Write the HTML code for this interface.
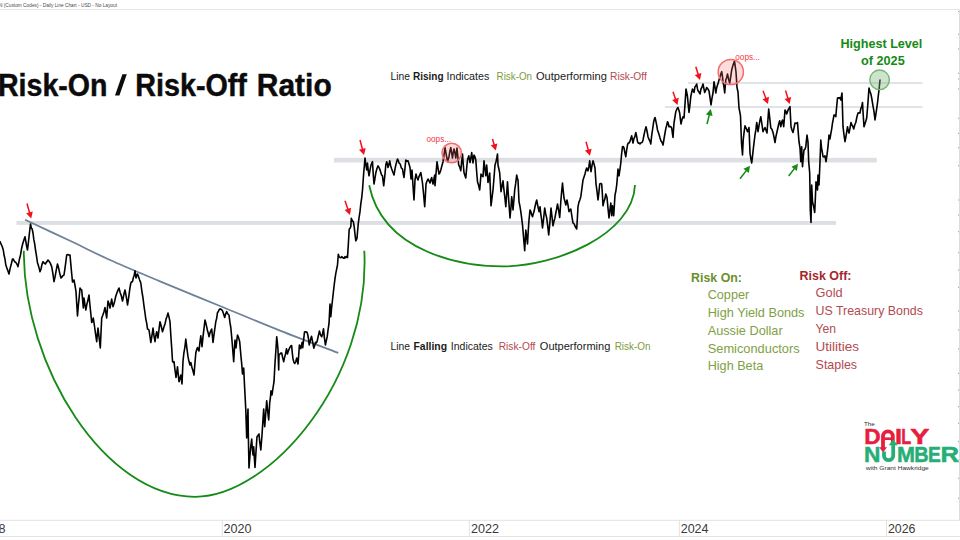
<!DOCTYPE html>
<html><head><meta charset="utf-8"><title>Risk-On / Risk-Off Ratio</title>
<style>
html,body{margin:0;padding:0;background:#fff;width:960px;height:540px;overflow:hidden;font-family:"Liberation Sans",sans-serif}
svg{display:block}
</style></head><body>
<svg width="960" height="540" viewBox="0 0 960 540" style="position:absolute;left:0;top:0">
<rect x="0" y="0" width="960" height="540" fill="#fff"/>
<line x1="0" y1="9.5" x2="960" y2="9.5" stroke="#e6e6e6" stroke-width="1"/>
<line x1="958" y1="11.5" x2="960" y2="11.5" stroke="#9a9a9a" stroke-width="1"/>
<line x1="958" y1="34.3" x2="960" y2="34.3" stroke="#9a9a9a" stroke-width="1"/>
<line x1="958" y1="49" x2="960" y2="49" stroke="#9a9a9a" stroke-width="1"/>
<line x1="958" y1="73.3" x2="960" y2="73.3" stroke="#9a9a9a" stroke-width="1"/>
<line x1="958" y1="79" x2="960" y2="79" stroke="#9a9a9a" stroke-width="1"/>
<line x1="958" y1="89" x2="960" y2="89" stroke="#9a9a9a" stroke-width="1"/>
<line x1="958" y1="118.3" x2="960" y2="118.3" stroke="#9a9a9a" stroke-width="1"/>
<line x1="958" y1="133.3" x2="960" y2="133.3" stroke="#9a9a9a" stroke-width="1"/>
<line x1="958" y1="147.7" x2="960" y2="147.7" stroke="#9a9a9a" stroke-width="1"/>
<line x1="958" y1="165.7" x2="960" y2="165.7" stroke="#9a9a9a" stroke-width="1"/>
<line x1="958" y1="200" x2="960" y2="200" stroke="#9a9a9a" stroke-width="1"/>
<line x1="958" y1="215" x2="960" y2="215" stroke="#9a9a9a" stroke-width="1"/>
<line x1="958" y1="231.7" x2="960" y2="231.7" stroke="#9a9a9a" stroke-width="1"/>
<line x1="958" y1="252.7" x2="960" y2="252.7" stroke="#9a9a9a" stroke-width="1"/>
<line x1="958" y1="270" x2="960" y2="270" stroke="#9a9a9a" stroke-width="1"/>
<line x1="958" y1="287.3" x2="960" y2="287.3" stroke="#9a9a9a" stroke-width="1"/>
<line x1="958" y1="311" x2="960" y2="311" stroke="#9a9a9a" stroke-width="1"/>
<line x1="958" y1="330" x2="960" y2="330" stroke="#9a9a9a" stroke-width="1"/>
<line x1="958" y1="349" x2="960" y2="349" stroke="#9a9a9a" stroke-width="1"/>
<line x1="958" y1="373.3" x2="960" y2="373.3" stroke="#9a9a9a" stroke-width="1"/>
<line x1="958" y1="390" x2="960" y2="390" stroke="#9a9a9a" stroke-width="1"/>
<line x1="958" y1="406.7" x2="960" y2="406.7" stroke="#9a9a9a" stroke-width="1"/>
<line x1="958" y1="423.3" x2="960" y2="423.3" stroke="#9a9a9a" stroke-width="1"/>
<line x1="958" y1="441.7" x2="960" y2="441.7" stroke="#9a9a9a" stroke-width="1"/>
<line x1="958" y1="460" x2="960" y2="460" stroke="#9a9a9a" stroke-width="1"/>
<line x1="958" y1="478.3" x2="960" y2="478.3" stroke="#9a9a9a" stroke-width="1"/>
<line x1="958" y1="498.3" x2="960" y2="498.3" stroke="#9a9a9a" stroke-width="1"/>
<line x1="959.5" y1="10" x2="959.5" y2="520" stroke="#dcdcdc" stroke-width="1"/>
<line x1="0" y1="520.3" x2="960" y2="520.3" stroke="#e3e3e3" stroke-width="1"/>
<line x1="0" y1="536.5" x2="960" y2="536.5" stroke="#e3e3e3" stroke-width="1"/>
<line x1="222.3" y1="520" x2="222.3" y2="536.5" stroke="#e3e3e3" stroke-width="1"/>
<line x1="469.3" y1="520" x2="469.3" y2="536.5" stroke="#e3e3e3" stroke-width="1"/>
<line x1="679.3" y1="520" x2="679.3" y2="536.5" stroke="#e3e3e3" stroke-width="1"/>
<line x1="886.5" y1="520" x2="886.5" y2="536.5" stroke="#e3e3e3" stroke-width="1"/>
<rect x="16.5" y="221" width="819.5" height="3.9" fill="#dcdfe4"/>
<rect x="334" y="157.8" width="542.7" height="4.7" fill="#dcdfe4"/>
<line x1="688" y1="83" x2="922.5" y2="83" stroke="#d6dae0" stroke-width="1.6"/>
<line x1="665" y1="107" x2="922.5" y2="107" stroke="#d6dae0" stroke-width="1.6"/>
<path d="M25.1,219.8C32.6,223.3 55.9,234.1 70.0,240.8C84.2,247.5 95.0,253.2 110.0,260.0C125.0,266.8 141.7,273.6 160.0,281.3C178.3,289.0 200.0,297.8 220.0,306.0C240.0,314.2 260.3,322.8 280.0,330.6C299.7,338.4 328.6,349.2 338.3,352.9" fill="none" stroke="#6f8298" stroke-width="1.8"/>
<path d="M23.8,250.8 C23.6,367.3 105,496.8 195,496.8 C269.9,496.8 370.7,380.1 364.3,250.7" fill="none" stroke="#168a16" stroke-width="1.8"/>
<path d="M369.2,185.3 C383.2,253.8 464.9,266.4 502.7,266.4 C555.7,266.4 632.9,234.9 635,185" fill="none" stroke="#168a16" stroke-width="1.8"/>
<polyline points="0.0,241.7 1.1,244.1 2.2,246.5 3.3,250.0 4.1,255.3 5.0,259.1 5.8,265.0 6.9,268.1 7.9,270.7 9.0,274.0 10.2,268.1 11.3,264.0 12.5,259.0 13.3,259.1 14.2,260.9 15.0,262.0 16.0,262.7 17.0,264.3 18.0,266.7 19.2,260.3 20.5,254.9 21.7,248.0 22.8,243.5 23.9,239.9 25.0,236.7 25.8,241.4 26.7,246.5 27.5,250.0 28.5,241.5 29.5,232.5 30.5,224.0 31.3,228.0 32.2,229.1 33.0,233.0 33.8,239.4 34.7,243.9 35.5,250.0 36.5,255.8 37.5,263.0 38.3,265.1 39.2,268.4 40.0,271.7 41.0,269.0 42.0,264.4 43.0,261.7 43.8,262.6 44.7,263.5 45.5,264.0 46.3,262.4 47.2,261.4 48.0,260.0 49.2,261.4 50.5,263.6 51.7,266.7 52.9,273.6 54.0,281.7 55.2,276.2 56.3,269.8 57.5,264.0 58.7,268.3 59.8,273.5 61.0,278.0 62.0,276.9 63.0,275.6 64.0,275.0 64.9,268.9 65.8,262.1 66.7,255.0 67.8,254.5 68.9,255.1 70.0,255.0 70.8,264.1 71.7,273.8 72.5,282.0 73.2,281.5 74.0,280.0 75.0,285.4 76.0,291.7 76.8,304.8 77.5,316.0 78.3,305.9 79.2,297.2 80.0,288.0 80.8,289.5 81.7,290.0 82.5,298.3 83.3,308.0 84.0,298.0 84.9,304.0 85.8,310.0 86.9,304.1 87.9,300.3 89.0,295.0 89.9,304.7 90.8,313.5 91.7,322.5 92.5,321.0 93.3,318.0 94.4,325.5 95.6,334.2 96.7,341.7 97.3,335.0 98.0,328.0 99.2,338.2 100.3,348.0 101.0,332.9 101.7,318.0 102.8,315.2 103.9,311.9 105.0,307.5 105.8,312.7 106.7,318.0 107.3,309.8 108.0,301.0 109.0,303.6 110.0,308.0 110.8,303.9 111.7,299.0 112.3,303.1 113.0,306.7 113.9,304.1 114.9,300.2 115.8,296.0 116.9,292.9 117.9,290.4 119.0,288.0 120.2,292.7 121.3,295.7 122.5,301.0 123.3,297.3 124.2,293.0 125.0,290.0 125.8,294.2 126.7,299.1 127.5,305.0 128.6,298.2 129.7,289.6 130.8,283.0 131.7,281.8 132.5,281.7 133.3,277.8 134.2,275.2 135.0,270.8 136.0,278.0 136.8,275.2 137.5,274.0 138.6,276.9 139.7,280.1 140.8,283.0 141.9,291.3 143.0,298.0 144.0,306.1 145.0,313.0 145.8,319.1 146.7,323.2 147.5,329.0 148.2,329.3 149.0,330.0 149.9,336.0 150.8,342.5 151.9,336.0 153.0,328.0 154.0,335.8 155.0,341.7 155.8,336.0 156.7,331.7 157.3,334.2 158.0,338.0 159.0,329.3 160.0,321.7 160.8,324.5 161.7,328.3 162.5,331.7 163.3,329.3 164.2,326.1 165.0,324.0 166.0,319.3 167.0,316.5 168.0,313.0 169.0,317.1 170.0,321.7 170.8,335.0 171.7,348.0 172.5,361.0 173.2,362.3 174.0,361.7 175.0,370.0 176.0,377.5 176.8,372.1 177.5,366.7 178.2,374.4 179.0,381.7 179.9,378.7 180.8,375.0 182.0,384.0 183.0,361.0 183.9,352.8 184.9,347.1 185.8,339.0 186.9,348.4 188.0,356.7 189.0,361.6 190.0,365.0 190.8,362.5 191.9,367.3 192.9,370.6 194.0,375.0 194.9,363.8 195.8,353.0 196.7,349.5 197.5,347.5 198.2,349.5 199.0,351.0 199.9,342.5 200.8,335.8 202.0,346.7 203.0,336.9 204.0,328.3 205.0,320.0 205.8,322.9 206.7,326.9 207.5,330.8 208.2,332.9 209.0,336.7 209.9,333.1 210.8,330.9 211.7,329.0 212.3,335.0 213.0,342.5 214.0,334.7 215.0,327.5 215.8,321.6 216.7,318.2 217.5,312.5 218.3,311.6 219.2,309.5 220.0,309.0 220.8,309.1 221.7,309.9 222.5,310.8 223.6,313.9 224.7,317.5 225.7,313.8 226.7,311.7 227.8,314.0 229.0,315.0 229.9,322.2 230.8,327.5 231.7,337.0 232.5,346.7 233.7,361.7 234.3,350.8 235.0,340.0 236.0,348.0 236.8,340.7 237.5,335.0 238.6,337.6 239.7,341.7 240.3,348.9 241.0,356.7 241.8,364.9 242.5,374.0 243.7,368.0 244.5,385.0 245.2,398.2 245.8,410.0 246.7,438.0 247.3,422.8 248.0,409.0 248.3,433.0 249.0,468.0 250.0,455.0 250.8,446.0 251.7,439.0 252.3,447.9 253.0,455.0 253.7,446.7 254.3,457.2 255.0,467.5 256.0,451.4 257.0,436.7 258.0,435.4 259.0,434.0 259.7,441.7 260.8,450.0 262.0,435.0 262.9,421.1 263.7,409.0 264.7,426.7 265.7,413.8 266.7,400.8 267.7,411.4 268.7,420.0 269.7,403.0 270.4,397.6 271.0,390.8 272.0,395.0 273.0,388.0 274.0,381.7 275.0,363.0 275.9,350.2 276.7,336.7 277.4,342.9 278.0,350.0 278.7,370.0 279.0,355.0 279.9,354.1 280.8,353.0 281.7,353.0 282.7,357.9 283.7,361.7 284.6,357.4 285.6,353.6 286.5,348.7 287.4,354.0 288.5,350.6 289.7,347.8 290.6,346.1 291.6,345.5 292.3,352.8 293.0,358.9 293.9,362.2 294.8,363.5 295.8,361.5 296.7,358.0 297.4,361.6 298.0,364.0 298.7,355.1 299.4,345.0 300.1,347.3 300.8,348.7 301.5,344.9 302.2,342.2 302.7,347.8 303.6,339.9 304.5,332.0 305.4,331.7 306.4,332.0 307.1,332.5 307.8,334.8 308.5,339.0 309.2,345.0 310.4,340.2 311.5,336.2 312.6,341.7 313.8,348.2 314.7,345.6 315.6,342.2 316.3,342.9 317.0,341.8 318.2,336.3 319.4,331.1 320.5,334.8 321.7,336.7 322.6,333.7 323.5,328.8 324.4,337.8 325.4,345.0 326.3,340.6 327.2,336.7 328.1,329.6 329.0,323.7 330.0,304.0 330.8,316.7 331.6,307.8 332.5,300.0 333.4,291.9 334.2,285.0 335.0,278.6 335.8,273.3 336.6,269.4 337.5,265.0 338.3,254.2 339.1,256.7 340.0,257.5 340.9,257.8 341.7,256.7 342.5,257.2 343.4,258.1 344.2,258.3 345.0,256.7 345.8,257.6 346.7,256.4 347.5,257.5 348.3,245.0 349.2,229.2 350.0,228.3 350.8,226.7 351.3,218.3 352.3,220.8 353.3,221.7 354.2,226.7 355.0,234.3 355.8,240.8 357.0,238.3 357.6,231.3 358.3,223.3 359.1,217.5 360.0,211.7 360.8,203.8 361.7,197.8 362.5,190.0 363.7,173.0 364.4,165.2 365.0,158.0 365.9,164.6 366.7,170.0 367.5,163.0 368.2,170.3 369.0,175.8 369.9,170.6 370.8,165.8 371.6,163.6 372.5,161.7 373.2,173.7 374.0,184.0 374.9,178.9 375.8,173.0 376.9,168.7 378.0,165.8 378.9,167.3 379.9,169.6 380.8,172.5 381.6,175.0 382.5,175.8 383.7,185.8 384.8,176.0 385.8,165.0 386.7,161.7 387.4,163.9 388.0,167.5 388.9,164.8 389.7,160.8 390.7,165.9 391.7,169.0 392.9,172.3 394.0,175.0 394.9,169.7 395.8,165.0 396.6,162.1 397.5,159.0 398.2,160.3 399.0,163.0 400.2,164.0 401.3,167.9 402.5,169.0 403.2,173.5 404.0,177.5 404.9,168.8 405.8,160.0 406.9,161.3 408.0,160.8 409.0,164.0 410.0,167.5 411.0,179.0 412.0,170.0 413.0,185.7 414.0,200.0 415.0,180.0 416.0,174.0 417.0,177.7 418.0,180.0 418.9,176.9 419.9,174.5 420.8,172.5 421.6,177.3 422.5,183.0 423.6,194.3 424.7,206.7 425.4,195.5 426.0,184.0 427.0,181.0 428.0,179.0 429.0,180.8 430.0,183.0 430.9,179.5 431.7,177.5 432.4,181.6 433.0,184.0 433.9,179.2 434.7,175.0 435.0,185.8 436.0,173.7 437.0,161.7 438.0,168.0 439.0,174.0 439.9,172.8 440.8,170.0 441.9,165.7 443.0,161.7 444.0,155.4 445.0,147.5 445.8,152.2 446.7,157.0 447.5,161.7 448.2,159.2 449.0,156.7 449.9,151.1 450.8,147.5 451.6,152.6 452.5,158.0 453.2,152.9 454.0,149.0 454.9,152.5 455.8,158.0 457.0,148.0 457.9,157.1 458.7,165.0 459.8,167.2 460.8,170.8 461.6,162.3 462.5,154.0 463.2,163.7 464.0,172.5 464.9,175.4 465.8,178.0 466.6,168.7 467.5,160.0 468.1,157.9 468.8,155.8 470.0,162.5 470.9,157.6 471.7,152.5 472.4,158.3 473.0,163.0 474.0,155.0 474.9,156.7 475.8,160.0 476.6,171.0 477.5,181.7 478.6,185.3 479.7,190.0 480.4,181.6 481.0,174.0 482.0,175.9 483.0,176.7 484.0,160.8 484.9,168.3 485.8,175.8 486.7,165.0 487.4,173.9 488.0,182.5 488.9,178.3 489.7,173.0 490.4,190.2 491.0,205.8 492.0,197.8 493.0,190.0 494.0,177.7 495.0,165.0 496.0,161.7 496.8,157.9 497.5,154.0 498.0,165.0 498.9,169.0 499.7,173.0 500.4,182.7 501.0,191.7 502.0,186.2 503.0,180.8 503.9,189.5 504.9,198.0 505.8,206.7 506.6,195.1 507.5,181.7 508.3,194.2 509.2,206.7 510.0,218.0 510.9,208.2 511.7,196.7 512.4,202.9 513.0,210.0 513.9,200.1 514.7,190.0 515.7,183.4 516.7,175.0 517.4,178.2 518.0,180.0 519.0,201.7 519.9,206.0 520.8,211.7 521.6,217.6 522.5,225.0 523.6,237.8 524.7,250.8 525.8,230.0 526.6,236.1 527.5,244.0 528.2,231.5 529.0,220.0 530.0,210.0 530.8,211.4 531.7,214.8 532.5,216.7 533.3,213.9 534.2,210.8 535.0,206.7 535.9,202.7 536.7,200.0 537.9,206.3 539.0,211.7 540.0,206.7 540.8,214.1 541.7,220.2 542.5,228.0 543.6,218.8 544.7,208.0 545.7,213.9 546.7,218.0 547.7,225.9 548.7,235.0 549.9,222.4 551.0,208.0 552.0,216.7 553.0,225.8 553.9,221.5 554.9,218.2 555.8,213.0 556.6,209.2 557.5,204.0 558.6,210.1 559.7,217.5 560.8,201.7 561.6,192.2 562.5,183.0 563.2,190.5 564.0,198.0 564.9,201.2 565.8,205.0 567.0,200.0 568.0,205.2 569.0,211.7 569.9,210.0 570.8,209.0 571.9,216.4 573.0,223.0 574.2,224.0 575.5,227.1 576.7,229.0 577.4,217.7 578.0,206.7 578.9,202.4 579.9,199.7 580.8,196.7 581.9,188.6 583.0,180.0 584.0,177.0 585.0,174.0 585.9,170.1 586.7,168.0 587.4,170.4 588.0,170.8 588.9,166.4 589.7,160.8 590.4,167.2 591.0,171.7 592.0,165.5 593.0,160.8 594.0,163.9 595.0,168.0 596.0,184.0 597.0,191.1 598.0,200.0 598.9,192.6 599.7,184.0 600.7,183.5 601.7,184.0 602.4,194.2 603.0,205.8 603.9,201.7 604.9,198.8 605.8,194.0 607.0,197.5 608.0,208.4 609.0,218.0 609.9,210.0 610.8,203.0 611.7,215.8 612.5,205.8 613.7,215.8 614.4,204.7 615.0,195.0 615.9,190.8 616.7,185.0 617.4,177.1 618.0,169.0 619.0,175.8 619.9,169.8 620.8,163.0 621.6,154.0 622.5,146.7 623.2,146.5 624.0,148.0 624.9,152.7 625.8,156.7 626.6,150.7 627.5,145.0 628.2,143.1 629.0,143.0 629.9,141.5 630.8,138.5 631.7,135.8 632.4,140.0 633.0,143.0 633.9,138.7 634.9,136.7 635.8,132.5 636.6,136.2 637.5,141.7 638.3,143.2 639.2,143.1 640.0,144.0 640.8,142.9 641.7,142.6 642.5,141.7 643.2,139.2 644.0,135.0 645.0,130.4 646.0,126.7 647.0,131.0 648.0,136.7 648.9,139.2 649.9,141.0 650.8,144.0 651.6,136.2 652.5,130.0 653.7,121.7 654.4,118.9 655.0,117.5 655.8,120.8 656.7,125.2 657.5,130.0 658.3,132.3 659.2,134.9 660.0,138.0 661.0,140.9 662.0,142.2 663.0,145.0 664.0,139.0 665.0,133.0 665.8,128.6 666.7,125.2 667.5,121.7 668.2,123.2 669.0,126.7 669.9,126.6 670.8,126.6 671.7,128.0 672.4,133.2 673.0,137.5 674.0,123.0 674.9,117.5 675.8,111.7 676.9,109.0 678.0,107.5 678.9,110.2 679.7,113.0 680.4,119.4 681.0,124.0 682.0,119.6 683.0,116.7 684.0,118.0 685.0,104.1 686.0,89.0 686.8,92.7 687.5,96.7 688.2,104.6 689.0,112.5 689.9,105.3 690.8,96.7 691.6,92.6 692.5,89.0 693.2,90.8 694.0,92.5 695.0,86.7 695.9,85.7 696.7,84.0 697.4,88.4 698.0,90.8 699.0,92.1 700.0,94.0 701.0,89.0 702.0,87.2 703.0,84.0 703.9,88.7 704.7,92.5 705.7,90.3 706.7,87.5 707.9,89.0 709.0,90.8 710.0,97.6 711.0,105.0 712.0,98.1 713.0,93.0 714.0,81.7 714.9,86.6 715.8,93.0 716.6,88.1 717.5,85.0 718.2,83.0 719.0,80.0 720.0,76.7 720.9,73.7 721.7,71.7 722.4,76.0 723.0,81.7 723.9,86.5 724.7,93.0 725.8,80.0 726.6,77.7 727.5,74.0 728.6,79.2 729.7,83.0 730.7,76.8 731.7,70.0 732.6,66.6 733.6,63.5 734.5,61.0 735.2,66.1 736.0,72.0 737.0,87.5 738.0,92.0 739.0,108.0 739.8,111.9 740.5,116.0 741.5,143.0 742.5,155.0 743.2,140.0 744.1,132.2 745.0,125.8 745.8,127.7 746.7,129.3 747.5,131.7 748.2,130.5 749.0,127.5 750.0,153.0 750.9,158.9 751.7,163.0 752.4,157.4 753.0,151.7 754.0,142.8 755.0,135.0 755.9,129.7 756.7,122.5 757.4,126.7 758.0,131.7 758.9,126.4 759.9,120.7 760.8,116.7 761.9,124.0 763.0,131.7 764.0,129.5 765.0,127.5 766.0,130.3 767.0,133.0 767.9,120.4 768.7,109.0 769.8,118.5 770.8,128.0 771.9,129.3 773.0,132.5 774.0,137.0 775.0,142.5 775.9,136.9 776.7,133.0 777.7,128.7 778.7,124.0 779.7,120.8 780.8,126.7 781.6,122.4 782.5,120.0 783.7,126.7 784.4,118.0 785.0,110.0 785.9,111.5 786.7,114.0 787.4,112.2 788.0,110.0 789.0,108.4 790.0,106.7 791.0,126.7 792.0,130.1 793.0,132.5 794.0,128.1 795.0,123.0 795.8,123.3 796.7,123.4 797.5,122.5 798.2,131.9 799.0,141.7 800.0,148.0 800.8,161.7 801.7,146.7 802.5,166.7 803.2,158.0 804.0,150.0 804.9,149.3 805.8,146.7 807.0,135.0 808.0,142.0 808.7,161.7 809.7,173.0 810.3,210.0 811.0,222.5 811.7,185.0 812.5,201.7 813.6,206.4 814.7,212.5 815.4,197.5 816.0,181.7 816.8,186.1 817.5,190.0 818.0,175.0 819.0,185.0 820.0,161.7 820.8,140.0 821.5,148.0 822.2,151.4 823.0,156.7 824.0,156.9 825.0,155.8 826.0,161.7 827.0,155.0 828.0,146.7 829.0,135.0 830.0,139.0 830.8,133.9 831.7,128.8 832.5,123.0 833.2,119.6 834.0,115.0 834.9,115.1 835.8,116.7 836.6,107.4 837.5,98.0 838.3,97.8 839.2,98.3 840.0,97.5 840.8,100.0 842.0,93.0 843.0,126.7 844.0,134.8 845.0,141.7 845.8,137.4 846.7,131.9 847.5,126.7 848.2,130.6 849.0,133.0 850.0,128.1 851.0,122.5 851.9,125.1 852.8,126.3 853.7,129.0 854.8,124.8 855.8,122.5 856.9,117.0 858.0,113.0 859.0,112.7 860.0,113.0 860.8,108.7 861.7,106.7 862.5,102.5 863.2,114.7 864.0,126.7 864.9,124.1 865.8,121.2 866.7,118.0 867.9,103.4 869.0,88.0 869.9,91.3 870.8,93.7 871.7,98.0 872.9,105.4 874.0,111.7 875.0,120.0 875.8,114.8 876.7,108.7 877.5,103.0 878.2,96.6 879.0,90.0 880.0,80.0" fill="none" stroke="#000" stroke-width="1.6" stroke-linejoin="round" stroke-linecap="round"/>
<circle cx="451.7" cy="153" r="9.7" fill="rgba(250,110,110,0.24)" stroke="#f26c6c" stroke-width="1.5"/>
<circle cx="730.8" cy="72" r="12.6" fill="rgba(250,110,110,0.24)" stroke="#f26c6c" stroke-width="1.5"/>
<circle cx="879.6" cy="79.8" r="9.8" fill="rgba(120,185,120,0.38)" stroke="#76b576" stroke-width="1.4"/>
<line x1="27.0" y1="203.5" x2="29.7" y2="213.3" stroke="#f2101c" stroke-width="1.5"/><polygon points="31.2,218.5 26.2,213.3 32.8,211.4" fill="#f2101c"/>
<line x1="345.0" y1="200.8" x2="348.2" y2="209.9" stroke="#f2101c" stroke-width="1.5"/><polygon points="350.0,215.0 344.6,210.1 351.1,207.8" fill="#f2101c"/>
<line x1="360.0" y1="140.0" x2="362.6" y2="149.8" stroke="#f2101c" stroke-width="1.5"/><polygon points="364.0,155.0 359.0,149.7 365.7,147.9" fill="#f2101c"/>
<line x1="492.5" y1="139.0" x2="494.3" y2="145.3" stroke="#f2101c" stroke-width="1.5"/><polygon points="495.8,150.5 490.7,145.3 497.4,143.4" fill="#f2101c"/>
<line x1="586.0" y1="141.7" x2="588.5" y2="150.6" stroke="#f2101c" stroke-width="1.5"/><polygon points="590.0,155.8 584.9,150.6 591.6,148.7" fill="#f2101c"/>
<line x1="673.0" y1="91.7" x2="675.8" y2="99.9" stroke="#f2101c" stroke-width="1.5"/><polygon points="677.5,105.0 672.2,100.0 678.7,97.8" fill="#f2101c"/>
<line x1="695.8" y1="66.7" x2="698.4" y2="74.9" stroke="#f2101c" stroke-width="1.5"/><polygon points="700.0,80.0 694.8,74.9 701.4,72.9" fill="#f2101c"/>
<line x1="763.0" y1="90.8" x2="766.1" y2="99.0" stroke="#f2101c" stroke-width="1.5"/><polygon points="768.0,104.0 762.5,99.2 769.0,96.8" fill="#f2101c"/>
<line x1="785.5" y1="90.5" x2="788.1" y2="98.8" stroke="#f2101c" stroke-width="1.5"/><polygon points="789.7,104.0 784.5,98.9 791.1,96.9" fill="#f2101c"/>
<line x1="707.0" y1="124.0" x2="709.5" y2="114.2" stroke="#168a16" stroke-width="1.5"/><polygon points="710.8,109.0 712.6,116.1 705.9,114.4" fill="#168a16"/>
<line x1="740.0" y1="178.8" x2="746.7" y2="170.1" stroke="#168a16" stroke-width="1.5"/><polygon points="750.0,165.8 748.8,173.0 743.4,168.8" fill="#168a16"/>
<line x1="788.7" y1="176.0" x2="794.7" y2="168.1" stroke="#168a16" stroke-width="1.5"/><polygon points="798.0,163.8 796.9,171.0 791.4,166.8" fill="#168a16"/>
<text x="-1" y="6.6" font-family="Liberation Sans, sans-serif" font-size="5" fill="#4a4a4a" textLength="118" lengthAdjust="spacingAndGlyphs">N (Custom Codes) - Daily Line Chart - USD - No Layout</text>
<text x="-2.0" y="95.5" font-family="Liberation Sans, sans-serif" font-size="31" fill="#0b0b0b" font-weight="bold" textLength="109.5" lengthAdjust="spacingAndGlyphs" stroke="#0b0b0b" stroke-width="0.45">Risk-On</text>
<polygon points="115,95.5 119.4,95.5 126.8,74.2 122.4,74.2" fill="#0b0b0b"/>
<text x="135.3" y="95.5" font-family="Liberation Sans, sans-serif" font-size="31" fill="#0b0b0b" font-weight="bold" textLength="111.6" lengthAdjust="spacingAndGlyphs" stroke="#0b0b0b" stroke-width="0.45">Risk-Off</text>
<text x="256.8" y="95.5" font-family="Liberation Sans, sans-serif" font-size="31" fill="#0b0b0b" font-weight="bold" textLength="74.9" lengthAdjust="spacingAndGlyphs" stroke="#0b0b0b" stroke-width="0.45">Ratio</text>
<text x="390.5" y="80.4" font-family="Liberation Sans, sans-serif" font-size="10.6" fill="#1a1a1a" textLength="19.5" lengthAdjust="spacingAndGlyphs">Line</text>
<text x="413" y="80.4" font-family="Liberation Sans, sans-serif" font-size="10.6" fill="#1a1a1a" font-weight="bold" textLength="30.6" lengthAdjust="spacingAndGlyphs">Rising</text>
<text x="446.5" y="80.4" font-family="Liberation Sans, sans-serif" font-size="10.6" fill="#1a1a1a" textLength="42.8" lengthAdjust="spacingAndGlyphs">Indicates</text>
<text x="496.6" y="80.4" font-family="Liberation Sans, sans-serif" font-size="10.6" fill="#7d9c3c" textLength="35.4" lengthAdjust="spacingAndGlyphs">Risk-On</text>
<text x="536" y="80.4" font-family="Liberation Sans, sans-serif" font-size="10.6" fill="#1a1a1a" textLength="70.8" lengthAdjust="spacingAndGlyphs">Outperforming</text>
<text x="610" y="80.4" font-family="Liberation Sans, sans-serif" font-size="10.6" fill="#b4494f" textLength="36.8" lengthAdjust="spacingAndGlyphs">Risk-Off</text>
<text x="390.5" y="349.8" font-family="Liberation Sans, sans-serif" font-size="10.6" fill="#1a1a1a" textLength="19.5" lengthAdjust="spacingAndGlyphs">Line</text>
<text x="413.5" y="349.8" font-family="Liberation Sans, sans-serif" font-size="10.6" fill="#1a1a1a" font-weight="bold" textLength="33.5" lengthAdjust="spacingAndGlyphs">Falling</text>
<text x="450.8" y="349.8" font-family="Liberation Sans, sans-serif" font-size="10.6" fill="#1a1a1a" textLength="42" lengthAdjust="spacingAndGlyphs">Indicates</text>
<text x="498.7" y="349.8" font-family="Liberation Sans, sans-serif" font-size="10.6" fill="#b4494f" textLength="36.7" lengthAdjust="spacingAndGlyphs">Risk-Off</text>
<text x="539.8" y="349.8" font-family="Liberation Sans, sans-serif" font-size="10.6" fill="#1a1a1a" textLength="70.5" lengthAdjust="spacingAndGlyphs">Outperforming</text>
<text x="614.7" y="349.8" font-family="Liberation Sans, sans-serif" font-size="10.6" fill="#7d9c3c" textLength="35.8" lengthAdjust="spacingAndGlyphs">Risk-On</text>
<text x="840.4" y="47.5" font-family="Liberation Sans, sans-serif" font-size="12.9" fill="#168a16" font-weight="bold" textLength="82" lengthAdjust="spacingAndGlyphs">Highest Level</text>
<text x="861" y="65" font-family="Liberation Sans, sans-serif" font-size="12.9" fill="#168a16" font-weight="bold" textLength="43.7" lengthAdjust="spacingAndGlyphs">of 2025</text>
<text x="426.5" y="141.9" font-family="Liberation Sans, sans-serif" font-size="9.4" fill="#fb3640" textLength="24.6" lengthAdjust="spacingAndGlyphs">oops...</text>
<text x="735.3" y="59.9" font-family="Liberation Sans, sans-serif" font-size="9.4" fill="#fb3640" textLength="24.6" lengthAdjust="spacingAndGlyphs">oops...</text>
<text x="691" y="281.9" font-family="Liberation Sans, sans-serif" font-size="12.7" fill="#6b8f2b" font-weight="bold" textLength="51" lengthAdjust="spacingAndGlyphs">Risk On:</text>
<text x="707.7" y="299.4" font-family="Liberation Sans, sans-serif" font-size="12.7" fill="#7ea144" textLength="41.5" lengthAdjust="spacingAndGlyphs">Copper</text>
<text x="707.7" y="317.09999999999997" font-family="Liberation Sans, sans-serif" font-size="12.7" fill="#7ea144" textLength="96.8" lengthAdjust="spacingAndGlyphs">High Yield Bonds</text>
<text x="707.7" y="334.79999999999995" font-family="Liberation Sans, sans-serif" font-size="12.7" fill="#7ea144" textLength="75" lengthAdjust="spacingAndGlyphs">Aussie Dollar</text>
<text x="707.7" y="352.5" font-family="Liberation Sans, sans-serif" font-size="12.7" fill="#7ea144" textLength="92" lengthAdjust="spacingAndGlyphs">Semiconductors</text>
<text x="707.7" y="370.2" font-family="Liberation Sans, sans-serif" font-size="12.7" fill="#7ea144" textLength="55.5" lengthAdjust="spacingAndGlyphs">High Beta</text>
<text x="799.5" y="279.8" font-family="Liberation Sans, sans-serif" font-size="12.7" fill="#a3282e" font-weight="bold" textLength="52" lengthAdjust="spacingAndGlyphs">Risk Off:</text>
<text x="815.6" y="297.3" font-family="Liberation Sans, sans-serif" font-size="12.7" fill="#b24a50" textLength="27" lengthAdjust="spacingAndGlyphs">Gold</text>
<text x="815.6" y="315.1" font-family="Liberation Sans, sans-serif" font-size="12.7" fill="#b24a50" textLength="107.3" lengthAdjust="spacingAndGlyphs">US Treasury Bonds</text>
<text x="815.6" y="332.90000000000003" font-family="Liberation Sans, sans-serif" font-size="12.7" fill="#b24a50" textLength="20.5" lengthAdjust="spacingAndGlyphs">Yen</text>
<text x="815.6" y="350.70000000000005" font-family="Liberation Sans, sans-serif" font-size="12.7" fill="#b24a50" textLength="43.5" lengthAdjust="spacingAndGlyphs">Utilities</text>
<text x="815.6" y="368.5" font-family="Liberation Sans, sans-serif" font-size="12.7" fill="#b24a50" textLength="41.5" lengthAdjust="spacingAndGlyphs">Staples</text>
<text x="-1.5" y="532.7" font-family="Liberation Sans, sans-serif" font-size="12.5" fill="#3a3a3a" textLength="7" lengthAdjust="spacingAndGlyphs">8</text>
<text x="223.5" y="532.7" font-family="Liberation Sans, sans-serif" font-size="12.5" fill="#3a3a3a" textLength="28" lengthAdjust="spacingAndGlyphs">2020</text>
<text x="471" y="532.7" font-family="Liberation Sans, sans-serif" font-size="12.5" fill="#3a3a3a" textLength="28" lengthAdjust="spacingAndGlyphs">2022</text>
<text x="680.7" y="532.7" font-family="Liberation Sans, sans-serif" font-size="12.5" fill="#3a3a3a" textLength="27.8" lengthAdjust="spacingAndGlyphs">2024</text>
<text x="888" y="532.7" font-family="Liberation Sans, sans-serif" font-size="12.5" fill="#3a3a3a" textLength="27.5" lengthAdjust="spacingAndGlyphs">2026</text>
<text x="864" y="425.6" font-family="Liberation Sans, sans-serif" font-size="5.8" fill="#2e2e2e" textLength="10.8" lengthAdjust="spacingAndGlyphs">The</text>
<text x="865.8" y="470.4" font-family="Liberation Sans, sans-serif" font-size="6.1" fill="#2e2e2e" textLength="63" lengthAdjust="spacingAndGlyphs">with Grant Hawkridge</text>
<text x="864.2" y="443.6" font-family="Liberation Sans, sans-serif" font-size="22.1" font-weight="bold" fill="#e5203f" stroke="#e5203f" stroke-width="0.5" stroke-linejoin="round" textLength="16.4" lengthAdjust="spacingAndGlyphs">D</text>
<text x="894.9" y="443.6" font-family="Liberation Sans, sans-serif" font-size="22.1" font-weight="bold" fill="#e5203f" stroke="#e5203f" stroke-width="0.5" stroke-linejoin="round" textLength="7" lengthAdjust="spacingAndGlyphs">I</text>
<text x="901.2" y="443.6" font-family="Liberation Sans, sans-serif" font-size="22.1" font-weight="bold" fill="#e5203f" stroke="#e5203f" stroke-width="0.5" stroke-linejoin="round" textLength="10" lengthAdjust="spacingAndGlyphs">L</text>
<text x="910.3" y="443.6" font-family="Liberation Sans, sans-serif" font-size="22.1" font-weight="bold" fill="#e5203f" stroke="#e5203f" stroke-width="0.5" stroke-linejoin="round" textLength="19.2" lengthAdjust="spacingAndGlyphs">Y</text>
<text x="864.0" y="462.2" font-family="Liberation Sans, sans-serif" font-size="22.1" font-weight="bold" fill="#27ae76" stroke="#27ae76" stroke-width="0.5" stroke-linejoin="round" textLength="16.4" lengthAdjust="spacingAndGlyphs">N</text>
<text x="897.0" y="462.2" font-family="Liberation Sans, sans-serif" font-size="22.1" font-weight="bold" fill="#27ae76" stroke="#27ae76" stroke-width="0.5" stroke-linejoin="round" textLength="18" lengthAdjust="spacingAndGlyphs">M</text>
<text x="914.2" y="462.2" font-family="Liberation Sans, sans-serif" font-size="22.1" font-weight="bold" fill="#27ae76" stroke="#27ae76" stroke-width="0.5" stroke-linejoin="round" textLength="14.3" lengthAdjust="spacingAndGlyphs">B</text>
<text x="928.0" y="462.2" font-family="Liberation Sans, sans-serif" font-size="22.1" font-weight="bold" fill="#27ae76" stroke="#27ae76" stroke-width="0.5" stroke-linejoin="round" textLength="12.8" lengthAdjust="spacingAndGlyphs">E</text>
<text x="940.4" y="462.2" font-family="Liberation Sans, sans-serif" font-size="22.1" font-weight="bold" fill="#27ae76" stroke="#27ae76" stroke-width="0.5" stroke-linejoin="round" textLength="18.5" lengthAdjust="spacingAndGlyphs">R</text>
<path d="M883.0,448 V436.2 a4.9,4.9 0 0 1 9.8,0 V443.8" fill="none" stroke="#e5203f" stroke-width="3.8"/>
<polygon points="879.2,447.2 887.0,447.2 883.1,452.6" fill="#e5203f"/>
<rect x="884.5" y="437.4" width="7" height="2.6" fill="#e5203f"/>
<path d="M884.0,451.5 V455.6 a4.6,4.6 0 0 0 9.2,0 V444" fill="none" stroke="#27ae76" stroke-width="3.8"/>
<polygon points="888.6,445.2 897.8,445.2 893.2,439.4" fill="#27ae76"/>
</svg>
</body></html>
